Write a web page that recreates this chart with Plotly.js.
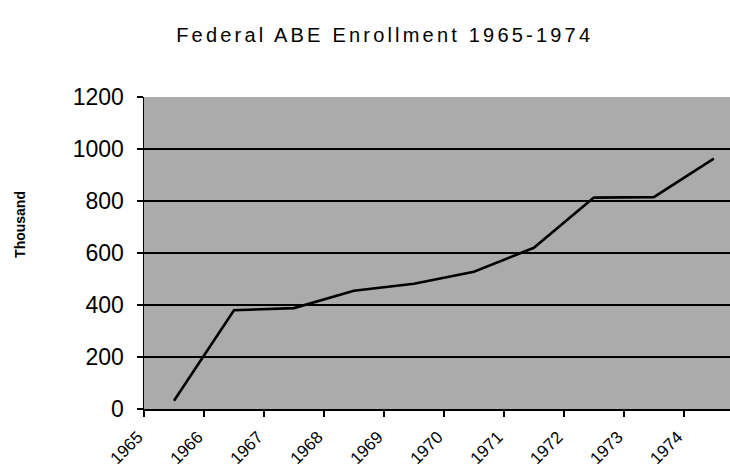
<!DOCTYPE html>
<html>
<head>
<meta charset="utf-8">
<script src="https://cdn.plot.ly/plotly-3.0.1.min.js"></script>
<style>
html,body{margin:0;padding:0;background:#fff;overflow:hidden;}
#chart{width:730px;height:476px;}
#chart .gtitle{letter-spacing:3.2px;}
</style>
</head>
<body>
<div id="chart"></div>
<script>
const years = ["1965","1966","1967","1968","1969","1970","1971","1972","1973","1974"];
const enrollment = [32, 380, 388, 455, 482, 528, 620, 813, 815, 963];
const yTicks = [0, 200, 400, 600, 800, 1000, 1200];
const yTitle = "Thousand";

const trace = {
  type: "scatter",
  mode: "lines",
  x: years,
  y: enrollment,
  line: {color: "#000000", width: 2.6},
  hoverinfo: "x+y"
};

const layout = {
  width: 730,
  height: 476,
  margin: {l: 144, r: 0, t: 97, b: 67},
  paper_bgcolor: "#ffffff",
  plot_bgcolor: "#ababab",
  showlegend: false,
  font: {family: "Liberation Sans, Arial, sans-serif", color: "#000"},
  title: {
    text: "Federal ABE Enrollment 1965-1974",
    font: {family: "Liberation Sans, Arial, sans-serif", size: 20, color: "#000"},
    x: 0.527, xanchor: "center",
    y: 0.926, yanchor: "middle"
  },
  xaxis: {
    type: "category",
    range: [-0.5, 9.27],
    tickson: "boundaries",
    ticks: "outside",
    ticklen: 6,
    tickcolor: "#000",
    tickwidth: 1.5,
    showgrid: false,
    showline: true,
    linecolor: "#000",
    linewidth: 1.5,
    tickangle: -45,
    tickfont: {size: 17, color: "#000"},
    ticklabelshift: -36,
    ticklabelstandoff: 10,
    zeroline: false,
    fixedrange: true
  },
  yaxis: {
    range: [0, 1200],
    tickvals: yTicks,
    ticktext: yTicks.map(String),
    ticks: "outside",
    ticklen: 6,
    tickcolor: "#000",
    tickwidth: 1.5,
    showline: true,
    linecolor: "#000",
    linewidth: 1.5,
    showgrid: true,
    gridcolor: "#000",
    gridwidth: 1.3,
    zeroline: false,
    tickfont: {size: 23, color: "#000"},
    ticklabelstandoff: 8,
    fixedrange: true
  },
  annotations: [{
    text: "<b>" + yTitle + "</b>",
    textangle: -90,
    xref: "paper", yref: "paper",
    x: -0.2116, y: 0.59,
    xanchor: "center", yanchor: "middle",
    showarrow: false,
    font: {family: "Liberation Sans, Arial, sans-serif", size: 14, color: "#000"}
  }]
};

Plotly.newPlot("chart", [trace], layout, {displayModeBar: false, staticPlot: true});
</script>
</body>
</html>
